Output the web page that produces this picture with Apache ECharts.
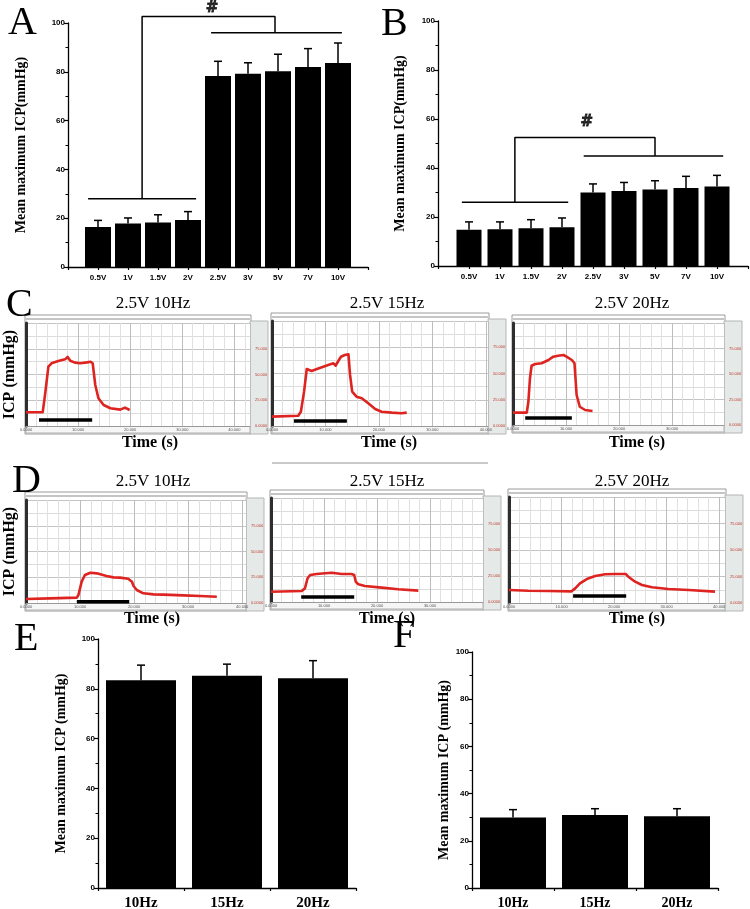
<!DOCTYPE html>
<html><head><meta charset="utf-8">
<script src="https://cdn.jsdelivr.net/npm/echarts@6/dist/echarts.min.js"></script>
<style>html,body{margin:0;padding:0;background:#fff}#c{width:750px;height:909px}</style>
</head><body><div id="c"></div>
<script>
// ---------------- data ----------------
const voltCats = ['0.5V','1V','1.5V','2V','2.5V','3V','5V','7V','10V'];
const aMean = [16.4,17.8,18.2,19.3,78.3,79.2,80.2,82.0,83.6];
const aErr  = [19.1,20.1,21.4,22.7,84.3,83.7,87.2,89.5,91.8];
const bMean = [14.8,15.0,15.4,15.8,30.0,30.6,31.2,31.8,32.4];
const bErr  = [18.0,18.0,18.9,19.6,33.5,34.1,34.8,36.6,37.0];
const freqCats = ['10Hz','15Hz','20Hz'];
const eMean = [83.4,85.2,84.2];
const eErr  = [89.5,89.9,91.3];
const fMean = [29.9,30.9,30.4];
const fErr  = [33.2,33.6,33.6];
const yTicks = [0,20,40,60,80,100];

// significance annotations (data units)
const aLow = [[0.67,28],[4.27,28]];
const aHigh = [[4.77,96],[9.13,96]];
const aBracket = [[2.47,28],[2.47,102.7],[6.9,102.7],[6.9,96]];
const aHash = [[4.8,106]];
const bLow = [[0.77,26],[4.2,26]];
const bHigh = [[4.7,44.9],[9.2,44.9]];
const bBracket = [[2.48,26],[2.48,52.4],[7.0,52.4],[7.0,44.9]];
const bHash = [[4.8,58.8]];

// ICP traces (time s, relative pressure)
const traceTitles = ['2.5V 10Hz','2.5V 15Hz','2.5V 20Hz'];
const c10 = [[0,13.3],[3.2,13.3],[3.65,30.1],[4.3,57.6],[4.9,60.9],[6.2,63.1],[7.5,64.7],[8.0,67],[8.5,63.4],[9.4,61.5],[10.4,60.9],[11.7,61.8],[12.4,62.4],[12.8,60.9],[13.3,39.8],[13.9,26.9],[14.9,20.4],[16.2,17.2],[18.1,15.9],[19.0,17.8],[19.9,15.5]];
const c15 = [[0,8.9],[4.9,9.8],[5.4,13.6],[6.0,32.7],[6.5,54.3],[6.8,55.5],[7.4,52.4],[8.4,54.3],[9.6,56.5],[10.5,58.1],[11.5,59.7],[11.9,57.4],[12.4,61.9],[12.9,66],[13.6,67.6],[14.3,68.3],[14.6,48.6],[15.0,32.7],[15.8,27.9],[16.8,26.4],[18.0,21.6],[19.3,16.2],[20.5,13.6],[22.4,12.7],[24.2,12.1],[25.2,12.7]];
const c20 = [[0,12.1],[2.6,12.1],[2.9,22.8],[3.2,45.8],[3.5,58.1],[4.2,59.8],[5.4,60.5],[6.7,63.7],[7.6,67],[8.5,67.9],[9.5,68.6],[10.1,67],[11.1,63.7],[11.6,60.5],[12.0,29.4],[12.6,17.9],[13.6,14.7],[15.0,13.7]];
const d10 = [[0,3.9],[4.4,4.5],[9.4,5.2],[9.7,7.8],[10.3,20.7],[10.9,27.2],[11.9,29.4],[13.1,28.8],[14.9,26.2],[16.2,24.9],[17.4,24.6],[18.9,23.6],[19.6,20.7],[19.9,16.5],[20.5,12.6],[21.7,9.4],[23.6,8.4],[25.4,8.1],[29.1,7.4],[32.2,6.8],[35.3,6.1]];
const d15 = [[0,9.9],[5.8,10.6],[6.4,13.1],[6.9,22.8],[7.4,26],[8.6,26.9],[10.2,27.6],[11.5,28.2],[13.3,26.9],[15.2,26.9],[15.7,26],[16.0,19.5],[16.5,17],[17.7,15.4],[20.9,13.8],[24.0,12.2],[27.8,10.9]];
const d20 = [[0,12.3],[3.7,11.6],[7.5,11.3],[11.9,11],[12.6,13.8],[13.5,18.6],[14.8,22.6],[16.4,25.5],[18.3,27.1],[20.2,27.4],[22.2,27.4],[22.7,24.8],[24.0,20.1],[25.3,17],[27.2,14.8],[30.3,13.2],[34.2,12.3],[39.2,10.7]];
const cStim = [[[2.5,5.8],[12.7,5.8]],[[4.1,4.8],[14.0,4.8]],[[2.3,6.9],[11.1,6.9]]];
const dStim = [[[9.4,1.2],[19.1,1.2]],[[5.7,4.8],[15.7,4.8]],[[12.2,6.6],[22.3,6.6]]];
const cXMax = [43, 40.4, 39.8];
const dXMax = [40.7, 40, 41.1];

// ---------------- layout ----------------
const SERIF = '"Liberation Serif","Times New Roman",serif';
const SANS = '"Liberation Sans",Arial,sans-serif';
const barBoxes = [
  {l:68,r:368,t:23,b:267},
  {l:438,r:748,t:21,b:266},
  {l:98,r:356,t:639,b:888},
  {l:472,r:718,t:652,b:888}
];
const traceBoxes = [
  {l:26,r:250,t:323,b:426},{l:272,r:488,t:321,b:426},{l:513,r:724,t:323,b:425},
  {l:26,r:246,t:500,b:603},{l:271,r:483,t:498,b:602},{l:509,r:725,t:497,b:603}
];

const grid=[], xAxis=[], yAxis=[], series=[], title=[], graphic=[];
function box2grid(b){return {left:b.l, top:b.t, width:b.r-b.l, height:b.b-b.t, outerBoundsMode:'none', containLabel:false};}

function barY(gi, name, gap){
  return {gridIndex:gi, type:'value', min:yTicks[0], max:yTicks[yTicks.length-1], interval:yTicks[1]-yTicks[0],
    axisLine:{show:true, lineStyle:{color:'#000', width:1.3}},
    axisTick:{show:true, inside:false, length:4, lineStyle:{color:'#000', width:1.2}},
    minorTick:{show:true, splitNumber:2, length:2.5, lineStyle:{color:'#000', width:1}},
    splitLine:{show:false},
    axisLabel:{fontFamily:SANS, fontWeight:'bold', fontSize:8, color:'#000', margin:3},
    name:name, nameLocation:'middle', nameRotate:90, nameGap:gap,
    nameTextStyle:{fontFamily:SERIF, fontWeight:'bold', fontSize:14, color:'#000'}};
}
function errSeries(xi, means, errs, offset, capW){
  return {type:'custom', xAxisIndex:xi, yAxisIndex:xi, z:3, silent:true,
    encode:{x:0, y:[1,2]},
    data: means.map((m,i)=>[i+offset, m, errs[i]]),
    renderItem:(p,api)=>{
      const x=api.value(0), m=api.value(1), e=api.value(2);
      const a=api.coord([x,m]), b=api.coord([x,e]);
      return {type:'group', children:[
        {type:'line', shape:{x1:a[0],y1:a[1],x2:b[0],y2:b[1]}, style:{stroke:'#000', lineWidth:1.5}},
        {type:'line', shape:{x1:b[0]-capW/2,y1:b[1],x2:b[0]+capW/2,y2:b[1]}, style:{stroke:'#000', lineWidth:1.5}}
      ]};
    }};
}
function lineAnn(gi, pts){
  return {type:'line', xAxisIndex:gi, yAxisIndex:gi, data:pts, symbol:'none', clip:false, silent:true,
    lineStyle:{color:'#000', width:1.5}, z:4};
}
function hashAnn(gi, pts){
  return {type:'scatter', xAxisIndex:gi, yAxisIndex:gi, data:pts, symbolSize:1, clip:false, silent:true,
    itemStyle:{color:'rgba(0,0,0,0)'},
    label:{show:true, formatter:'#', position:'inside', fontFamily:'"DejaVu Sans",'+SANS, fontWeight:'bold', fontSize:15, color:'#000',
      textBorderColor:'#000', textBorderWidth:0.8}};
}

// ----- panels A, B (voltage) -----
[[aMean,aErr,aLow,aHigh,aBracket,aHash,'Mean maximum ICP(mmHg)',40,26],
 [bMean,bErr,bLow,bHigh,bBracket,bHash,'Mean maximum ICP(mmHg)',31,25]].forEach((P,k)=>{
  grid.push(box2grid(barBoxes[k]));
  xAxis.push({gridIndex:k, type:'value', min:0, max:voltCats.length+1, interval:1,
    axisLine:{lineStyle:{color:'#000', width:1.3}},
    axisTick:{show:true, length:3, lineStyle:{color:'#000', width:1.2}},
    splitLine:{show:false},
    axisLabel:{formatter:v=>voltCats[Math.round(v)-1]||'', fontFamily:SANS, fontWeight:'bold', fontSize:8, color:'#000', margin:7}});
  yAxis.push(barY(k, P[6], P[7]));
  series.push({type:'bar', xAxisIndex:k, yAxisIndex:k, data:P[0].map((v,i)=>[i+1,v]), barWidth:P[8], itemStyle:{color:'#000'}, silent:true});
  series.push(errSeries(k, P[0], P[1], 1, 8));
  series.push(lineAnn(k, P[2]), lineAnn(k, P[3]), lineAnn(k, P[4]), hashAnn(k, P[5]));
});

// ----- panels E, F (frequency) -----
[[eMean,eErr,'Mean maximum ICP (mmHg)',30,70,15],[fMean,fErr,'Mean maximum ICP (mmHg)',21,66,14]].forEach((P,j)=>{
  const k=2+j;
  grid.push(box2grid(barBoxes[k]));
  xAxis.push({gridIndex:k, type:'category', data:freqCats, boundaryGap:true,
    axisLine:{lineStyle:{color:'#000', width:1.3}},
    axisTick:{show:true, length:3, lineStyle:{color:'#000', width:1.2}},
    axisLabel:{fontFamily:SERIF, fontWeight:'bold', fontSize:P[5], color:'#000', margin:8}});
  yAxis.push(barY(k, P[2], P[3]));
  series.push({type:'bar', xAxisIndex:k, yAxisIndex:k, data:P[0], barWidth:P[4], itemStyle:{color:'#000'}, silent:true});
  series.push(errSeries(k, P[0], P[1], 0, 8));
});

// ----- panels C, D (ICP traces) -----
const traceData = [c10,c15,c20,d10,d15,d20];
const stimData = cStim.concat(dStim);
const xMax = cXMax.concat(dXMax);
traceBoxes.forEach((b,t)=>{
  const gi = 4+t;
  grid.push(Object.assign(box2grid(b), {show:true, backgroundColor:'#fff', borderWidth:0}));
  xAxis.push({gridIndex:gi, type:'value', min:0, max:xMax[t], interval:10,
    axisLine:{show:true, lineStyle:{color:'#999', width:1}},
    axisTick:{show:false},
    axisLabel:{fontSize:4, color:'#555', margin:2, showMaxLabel:false, formatter:v=>v===0?'0.0000':v.toFixed(3)},
    splitLine:{show:true, lineStyle:{color:'#bdbdbd', width:1}},
    minorTick:{show:false, splitNumber:5},
    minorSplitLine:{show:true, lineStyle:{color:'#e0e0e0', width:1}}});
  const isFirst = (t===0 || t===3);
  yAxis.push({gridIndex:gi, type:'value', min:0, max:100, interval:25,
    axisLine:{show:true, onZero:false, lineStyle:{color:'#2e2e2e', width:3}},
    axisTick:{show:false}, axisLabel:{show:false},
    splitLine:{show:true, lineStyle:{color:'#c4c4c4', width:1}},
    minorTick:{show:false, splitNumber:2},
    minorSplitLine:{show:true, lineStyle:{color:'#dcdcdc', width:1}},
    name: isFirst ? 'ICP (mmHg)' : '', nameLocation:'middle', nameRotate:90, nameGap:8,
    nameTextStyle:{fontFamily:SERIF, fontWeight:'bold', fontSize:16, color:'#000'}});
  yAxis.push({gridIndex:gi, type:'value', position:'right', min:0, max:100, interval:25,
    axisLine:{show:false}, axisTick:{show:false}, splitLine:{show:false},
    axisLabel:{fontSize:4, color:'#c0392b', margin:5, showMaxLabel:false, formatter:v=>v===0?'0.0000':v.toFixed(3)}});
});
traceBoxes.forEach((b,t)=>{
  const gi=4+t, yi=4+2*t;
  series.push({type:'line', xAxisIndex:gi, yAxisIndex:yi, data:traceData[t], symbol:'none', silent:true,
    lineStyle:{color:'#de2420', width:2.6, join:'round'}, z:3});
  series.push({type:'line', xAxisIndex:gi, yAxisIndex:yi, data:stimData[t], symbol:'none', silent:true, clip:false,
    lineStyle:{color:'#000', width:3.5}, z:4});
  graphic.push({type:'rect', z:-10, shape:{x:b.l-1, y:b.t-8, width:b.r-b.l+2, height:b.b-b.t+16}, style:{fill:'#fff', stroke:'#9a9a9a', lineWidth:1}});
  graphic.push({type:'line', z:-9, shape:{x1:b.l, y1:b.t-4, x2:b.r, y2:b.t-4}, style:{stroke:'#8a8a8a', lineWidth:1}});
  graphic.push({type:'rect', z:-9, shape:{x:b.l, y:b.b, width:b.r-b.l, height:7}, style:{fill:'#f6f6f6', stroke:'#b0b0b0', lineWidth:1}});
  graphic.push({type:'rect', z:-10, shape:{x:b.r, y:b.t-2, width:18, height:b.b-b.t+10}, style:{fill:'#e5e9e8', stroke:'#b5b5b5', lineWidth:1}});
});
graphic.push({type:'line', z:-9, shape:{x1:272, y1:463, x2:488, y2:463}, style:{stroke:'#c9c9c9', lineWidth:2}});

// ----- titles / texts -----
const letters = [['A',8,3],['B',381,4],['C',6,285],['D',12,461],['E',14,619],['F',393,616]];
letters.forEach(L=>title.push({text:L[0], left:L[1], top:L[2], padding:0, textStyle:{fontFamily:SERIF, fontWeight:'normal', fontSize:40, color:'#000'}}));
const tCenters = [153,387,632];
tCenters.forEach((x,i)=>{
  title.push({text:traceTitles[i], left:x, top:295, textAlign:'center', padding:0, textStyle:{fontFamily:SERIF, fontWeight:'normal', fontSize:17, color:'#000'}});
  title.push({text:traceTitles[i], left:x, top:473, textAlign:'center', padding:0, textStyle:{fontFamily:SERIF, fontWeight:'normal', fontSize:17, color:'#000'}});
});
[150,389,637].forEach(x=>title.push({text:'Time (s)', left:x, top:435, textAlign:'center', padding:0, textStyle:{fontFamily:SERIF, fontWeight:'bold', fontSize:16, color:'#000'}}));
[152,387,637].forEach(x=>title.push({text:'Time (s)', left:x, top:611, textAlign:'center', padding:0, textStyle:{fontFamily:SERIF, fontWeight:'bold', fontSize:16, color:'#000'}}));

const chart = echarts.init(document.getElementById('c'));
chart.setOption({animation:false, backgroundColor:'#fff', title, grid, xAxis, yAxis, series, graphic});
</script></body></html>
